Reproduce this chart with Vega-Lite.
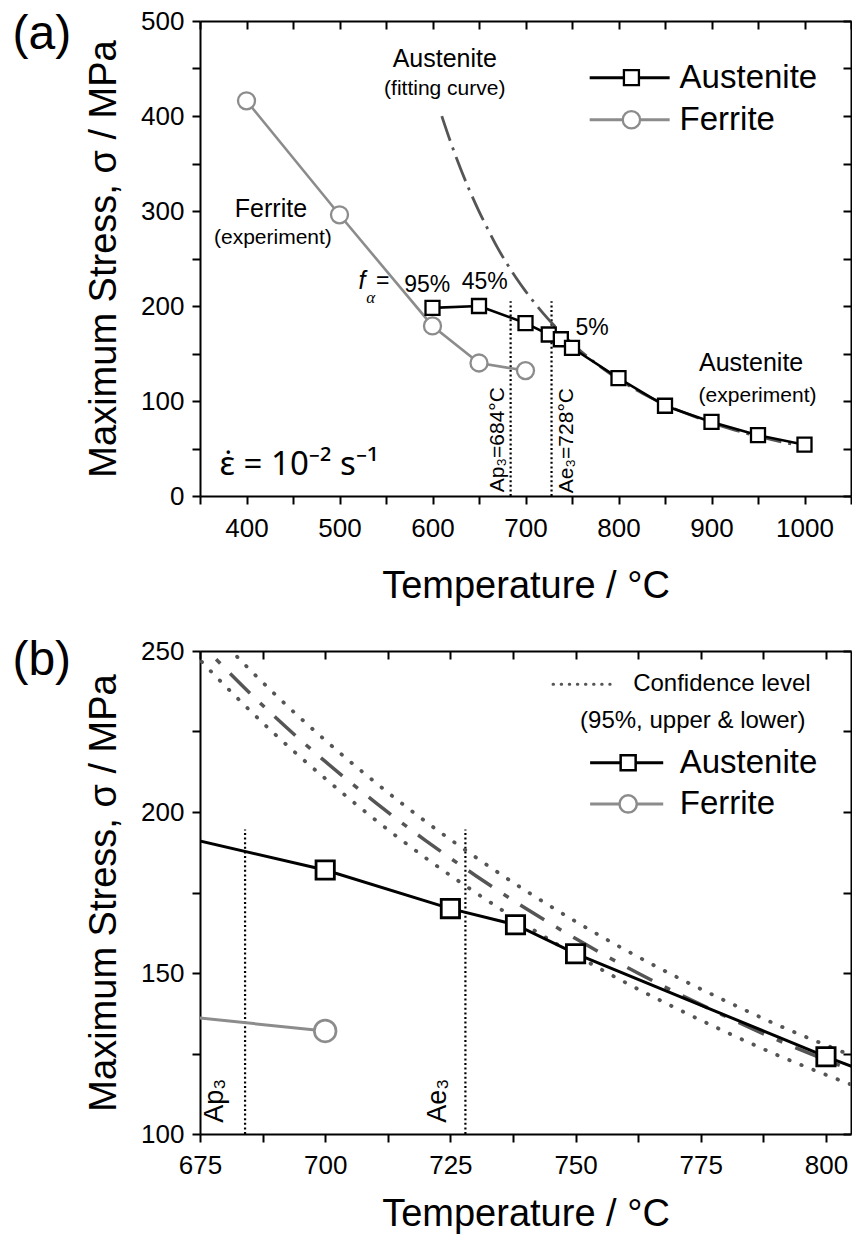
{
  "$schema": "https://vega.github.io/schema/vega-lite/v6.json",
  "background": "white",
  "padding": {"left": 12, "top": 8, "right": 0, "bottom": 4},
  "spacing": 31,
  "config": {
    "font": "Liberation Sans",
    "view": {"stroke": null},
    "axis": {"labelFont": "Liberation Sans", "titleFont": "Liberation Sans", "labelColor": "black", "titleColor": "black", "domainColor": "black", "tickColor": "black", "domainWidth": 2, "tickWidth": 2, "labelFontSize": 26, "titleFontSize": 38, "titleFontWeight": "normal", "grid": false, "labelFlush": false, "labelOverlap": false},
    "text": {"font": "Liberation Sans", "color": "black"}
  },
  "datasets": {
    "aus": [{"T":600,"s":198},{"T":650,"s":200},{"T":700,"s":182},{"T":725,"s":170},{"T":738,"s":165},{"T":750,"s":156},{"T":800,"s":124},{"T":850,"s":95},{"T":900,"s":78},{"T":950,"s":64},{"T":1000,"s":54}],
    "fer": [{"T":400,"s":416},{"T":500,"s":296},{"T":600,"s":179},{"T":650,"s":140},{"T":700,"s":132}],
    "fit": [{"T":610,"s":399.9},{"T":620,"s":371.1},{"T":630,"s":345.0},{"T":640,"s":321.3},{"T":650,"s":299.6},{"T":660,"s":279.9},{"T":670,"s":261.2},{"T":680,"s":244.6},{"T":690,"s":229.5},{"T":700,"s":215.7},{"T":710,"s":203.0},{"T":720,"s":191.2},{"T":730,"s":180.3},{"T":740,"s":170.1},{"T":750,"s":160.7},{"T":760,"s":152.0},{"T":770,"s":144.0},{"T":780,"s":136.5},{"T":790,"s":129.4},{"T":800,"s":123.0},{"T":810,"s":116.9},{"T":825,"s":108.5},{"T":850,"s":96.4},{"T":875,"s":86.0},{"T":900,"s":77.1},{"T":925,"s":69.4},{"T":950,"s":62.8},{"T":975,"s":57.0},{"T":1000,"s":52.0}],
    "band": [
      {"T":670,"s":268.9,"b":"upper"},{"T":680,"s":252.1,"b":"upper"},{"T":690,"s":236.5,"b":"upper"},{"T":700,"s":222.3,"b":"upper"},{"T":710,"s":209.2,"b":"upper"},{"T":720,"s":197.1,"b":"upper"},{"T":730,"s":186.0,"b":"upper"},{"T":740,"s":175.6,"b":"upper"},{"T":750,"s":166.0,"b":"upper"},{"T":760,"s":157.1,"b":"upper"},{"T":770,"s":148.9,"b":"upper"},{"T":780,"s":141.3,"b":"upper"},{"T":790,"s":134.1,"b":"upper"},{"T":800,"s":127.6,"b":"upper"},{"T":810,"s":121.4,"b":"upper"},
      {"T":670,"s":255.5,"b":"lower"},{"T":680,"s":239.2,"b":"lower"},{"T":690,"s":224.1,"b":"lower"},{"T":700,"s":210.4,"b":"lower"},{"T":710,"s":197.6,"b":"lower"},{"T":720,"s":185.8,"b":"lower"},{"T":730,"s":175.0,"b":"lower"},{"T":740,"s":164.9,"b":"lower"},{"T":750,"s":155.6,"b":"lower"},{"T":760,"s":147.0,"b":"lower"},{"T":770,"s":139.1,"b":"lower"},{"T":780,"s":131.7,"b":"lower"},{"T":790,"s":124.7,"b":"lower"},{"T":800,"s":118.4,"b":"lower"},{"T":810,"s":112.4,"b":"lower"}
    ]
  },
  "vconcat": [
    {
      "width": 651,
      "height": 475,
      "resolve": {"axis": {"x": "independent", "y": "independent"}},
      "layer": [
        {
          "data": {"values": [{"T":684,"lo":0,"hi":205},{"T":728,"lo":0,"hi":205}]},
          "mark": {"type": "rule", "color": "black", "strokeWidth": 2.2, "strokeDash": [2, 2.6]},
          "encoding": {
            "x": {"field": "T", "type": "quantitative", "scale": {"domain": [350,1050], "nice": false, "zero": false}, "axis": null},
            "y": {"field": "lo", "type": "quantitative", "scale": {"domain": [0,500], "nice": false, "zero": false}, "axis": null},
            "y2": {"field": "hi"}
          }
        },
        {
          "data": {"name": "fit"},
          "mark": {"type": "line", "color": "#555555", "strokeWidth": 2.8, "strokeDash": [26, 7, 3, 7], "interpolate": "monotone"},
          "encoding": {
            "x": {"field": "T", "type": "quantitative", "scale": {"domain": [350,1050], "nice": false, "zero": false},
                  "axis": {"orient": "bottom", "values": [350,400,450,500,550,600,650,700,750,800,850,900,950,1000,1050], "format": "d", "labelExpr": "datum.value % 100 === 0 ? datum.label : ''", "tickSize": 8, "labelPadding": 11, "title": "Temperature / °C", "titlePadding": 26}},
            "y": {"field": "s", "type": "quantitative", "scale": {"domain": [0,500], "nice": false, "zero": false},
                  "axis": {"orient": "left", "values": [0,50,100,150,200,250,300,350,400,450,500], "format": "d", "labelExpr": "datum.value % 100 === 0 ? datum.label : ''", "tickSize": 8, "labelPadding": 8, "title": "Maximum Stress, σ / MPa", "titlePadding": 17}}
          }
        },
        {
          "data": {"name": "fer"},
          "mark": {"type": "line", "color": "#8c8c8c", "strokeWidth": 2.6},
          "encoding": {
            "x": {"field": "T", "type": "quantitative", "scale": {"domain": [350,1050], "nice": false, "zero": false}, "axis": null},
            "y": {"field": "s", "type": "quantitative", "scale": {"domain": [0,500], "nice": false, "zero": false}, "axis": null}
          }
        },
        {
          "data": {"name": "fer"},
          "mark": {"type": "point", "shape": "circle", "filled": true, "fill": "white", "stroke": "#8c8c8c", "strokeWidth": 2.3, "size": 290, "opacity": 1},
          "encoding": {
            "x": {"field": "T", "type": "quantitative", "scale": {"domain": [350,1050], "nice": false, "zero": false}, "axis": null},
            "y": {"field": "s", "type": "quantitative", "scale": {"domain": [0,500], "nice": false, "zero": false}, "axis": null}
          }
        },
        {
          "data": {"name": "aus"},
          "mark": {"type": "line", "color": "black", "strokeWidth": 2.6},
          "encoding": {
            "x": {"field": "T", "type": "quantitative", "scale": {"domain": [350,1050], "nice": false, "zero": false},
                  "axis": {"orient": "top", "values": [350,400,450,500,550,600,650,700,750,800,850,900,950,1000,1050], "labels": false, "tickSize": -8, "title": null}},
            "y": {"field": "s", "type": "quantitative", "scale": {"domain": [0,500], "nice": false, "zero": false},
                  "axis": {"orient": "right", "values": [0,50,100,150,200,250,300,350,400,450,500], "labels": false, "tickSize": -8, "title": null}}
          }
        },
        {
          "data": {"name": "aus"},
          "mark": {"type": "point", "shape": "square", "filled": true, "fill": "white", "stroke": "black", "strokeWidth": 2.3, "size": 196, "opacity": 1},
          "encoding": {
            "x": {"field": "T", "type": "quantitative", "scale": {"domain": [350,1050], "nice": false, "zero": false}, "axis": null},
            "y": {"field": "s", "type": "quantitative", "scale": {"domain": [0,500], "nice": false, "zero": false}, "axis": null}
          }
        },
        {
          "data": {"values": [{"T":613.2,"s":460,"t":"Austenite"},{"T":426.3,"s":302,"t":"Ferrite"},{"T":942.6,"s":140.3,"t":"Austenite"}]},
          "mark": {"type": "text", "fontSize": 25, "align": "center", "baseline": "middle"},
          "encoding": {
            "x": {"field": "T", "type": "quantitative", "scale": {"domain": [350,1050], "nice": false, "zero": false}, "axis": null},
            "y": {"field": "s", "type": "quantitative", "scale": {"domain": [0,500], "nice": false, "zero": false}, "axis": null},
            "text": {"field": "t"}
          }
        },
        {
          "data": {"values": [{"T":613.2,"s":428.4,"t":"(fitting curve)"},{"T":428.4,"s":271.6,"t":"(experiment)"},{"T":949.5,"s":105.3,"t":"(experiment)"}]},
          "mark": {"type": "text", "fontSize": 21, "align": "center", "baseline": "middle"},
          "encoding": {
            "x": {"field": "T", "type": "quantitative", "scale": {"domain": [350,1050], "nice": false, "zero": false}, "axis": null},
            "y": {"field": "s", "type": "quantitative", "scale": {"domain": [0,500], "nice": false, "zero": false}, "axis": null},
            "text": {"field": "t"}
          }
        },
        {
          "data": {"values": [{"T":594.4,"s":222.6,"t":"95%"},{"T":656.2,"s":225.6,"t":"45%"},{"T":771.7,"s":176.5,"t":"5%"},{"T":546.6,"s":226.3,"t":"="}]},
          "mark": {"type": "text", "fontSize": 23, "align": "center", "baseline": "middle"},
          "encoding": {
            "x": {"field": "T", "type": "quantitative", "scale": {"domain": [350,1050], "nice": false, "zero": false}, "axis": null},
            "y": {"field": "s", "type": "quantitative", "scale": {"domain": [0,500], "nice": false, "zero": false}, "axis": null},
            "text": {"field": "t"}
          }
        },
        {
          "data": {"values": [{"T":524.1,"s":226.3,"t":"f"}]},
          "mark": {"type": "text", "fontSize": 25, "fontStyle": "italic", "align": "center", "baseline": "middle"},
          "encoding": {
            "x": {"field": "T", "type": "quantitative", "scale": {"domain": [350,1050], "nice": false, "zero": false}, "axis": null},
            "y": {"field": "s", "type": "quantitative", "scale": {"domain": [0,500], "nice": false, "zero": false}, "axis": null},
            "text": {"field": "t"}
          }
        },
        {
          "data": {"values": [{"T":533.7,"s":208.4,"t":"α"}]},
          "mark": {"type": "text", "fontSize": 17, "fontStyle": "italic", "font": "Liberation Serif", "align": "center", "baseline": "middle"},
          "encoding": {
            "x": {"field": "T", "type": "quantitative", "scale": {"domain": [350,1050], "nice": false, "zero": false}, "axis": null},
            "y": {"field": "s", "type": "quantitative", "scale": {"domain": [0,500], "nice": false, "zero": false}, "axis": null},
            "text": {"field": "t"}
          }
        },
        {
          "data": {"values": [{"T":677,"s":4,"t":"Ap₃=684°C"},{"T":751.5,"s":3,"t":"Ae₃=728°C"}]},
          "mark": {"type": "text", "fontSize": 21, "angle": 270, "align": "left", "baseline": "alphabetic"},
          "encoding": {
            "x": {"field": "T", "type": "quantitative", "scale": {"domain": [350,1050], "nice": false, "zero": false}, "axis": null},
            "y": {"field": "s", "type": "quantitative", "scale": {"domain": [0,500], "nice": false, "zero": false}, "axis": null},
            "text": {"field": "t"}
          }
        },
        {
          "data": {"values": [{"T":371,"s":22.1,"t":"ε̇ = 10⁻² s⁻¹"}]},
          "mark": {"type": "text", "fontSize": 33, "font": "Noto Sans", "align": "left", "baseline": "alphabetic"},
          "encoding": {
            "x": {"field": "T", "type": "quantitative", "scale": {"domain": [350,1050], "nice": false, "zero": false}, "axis": null},
            "y": {"field": "s", "type": "quantitative", "scale": {"domain": [0,500], "nice": false, "zero": false}, "axis": null},
            "text": {"field": "t"}
          }
        },
        {
          "data": {"values": [{"T":179.9,"s":485.3,"t":"(a)"}]},
          "mark": {"type": "text", "fontSize": 48, "align": "center", "baseline": "middle"},
          "encoding": {
            "x": {"field": "T", "type": "quantitative", "scale": {"domain": [350,1050], "nice": false, "zero": false}, "axis": null},
            "y": {"field": "s", "type": "quantitative", "scale": {"domain": [0,500], "nice": false, "zero": false}, "axis": null},
            "text": {"field": "t"}
          }
        },
        {
          "data": {"values": [{"T1":769,"T2":855,"s":440.3}]},
          "mark": {"type": "rule", "color": "black", "strokeWidth": 3},
          "encoding": {
            "x": {"field": "T1", "type": "quantitative", "scale": {"domain": [350,1050], "nice": false, "zero": false}, "axis": null},
            "x2": {"field": "T2"},
            "y": {"field": "s", "type": "quantitative", "scale": {"domain": [0,500], "nice": false, "zero": false}, "axis": null}
          }
        },
        {
          "data": {"values": [{"T1":769,"T2":855,"s":396}]},
          "mark": {"type": "rule", "color": "#8c8c8c", "strokeWidth": 3},
          "encoding": {
            "x": {"field": "T1", "type": "quantitative", "scale": {"domain": [350,1050], "nice": false, "zero": false}, "axis": null},
            "x2": {"field": "T2"},
            "y": {"field": "s", "type": "quantitative", "scale": {"domain": [0,500], "nice": false, "zero": false}, "axis": null}
          }
        },
        {
          "data": {"values": [{"T":813.9,"s":440.3}]},
          "mark": {"type": "point", "shape": "square", "filled": true, "fill": "white", "stroke": "black", "strokeWidth": 2.3, "size": 225, "opacity": 1},
          "encoding": {
            "x": {"field": "T", "type": "quantitative", "scale": {"domain": [350,1050], "nice": false, "zero": false}, "axis": null},
            "y": {"field": "s", "type": "quantitative", "scale": {"domain": [0,500], "nice": false, "zero": false}, "axis": null}
          }
        },
        {
          "data": {"values": [{"T":813.9,"s":396}]},
          "mark": {"type": "point", "shape": "circle", "filled": true, "fill": "white", "stroke": "#8c8c8c", "strokeWidth": 2.3, "size": 300, "opacity": 1},
          "encoding": {
            "x": {"field": "T", "type": "quantitative", "scale": {"domain": [350,1050], "nice": false, "zero": false}, "axis": null},
            "y": {"field": "s", "type": "quantitative", "scale": {"domain": [0,500], "nice": false, "zero": false}, "axis": null}
          }
        },
        {
          "data": {"values": [{"T":865.7,"s":440.3,"t":"Austenite"},{"T":865.7,"s":396,"t":"Ferrite"}]},
          "mark": {"type": "text", "fontSize": 33, "align": "left", "baseline": "middle"},
          "encoding": {
            "x": {"field": "T", "type": "quantitative", "scale": {"domain": [350,1050], "nice": false, "zero": false}, "axis": null},
            "y": {"field": "s", "type": "quantitative", "scale": {"domain": [0,500], "nice": false, "zero": false}, "axis": null},
            "text": {"field": "t"}
          }
        }
      ]
    },
    {
      "width": 651,
      "height": 483,
      "resolve": {"axis": {"x": "independent", "y": "independent"}},
      "layer": [
        {
          "data": {"values": [{"T":684,"lo":100,"hi":194.6},{"T":728,"lo":100,"hi":194.6}]},
          "mark": {"type": "rule", "color": "black", "strokeWidth": 2.2, "strokeDash": [2, 2.6]},
          "encoding": {
            "x": {"field": "T", "type": "quantitative", "scale": {"domain": [675,805], "nice": false, "zero": false}, "axis": null},
            "y": {"field": "lo", "type": "quantitative", "scale": {"domain": [100,250], "nice": false, "zero": false}, "axis": null},
            "y2": {"field": "hi"}
          }
        },
        {
          "data": {"name": "band"},
          "mark": {"type": "line", "color": "#555555", "strokeWidth": 3.8, "strokeDash": [0.5, 12.5], "strokeCap": "round", "clip": true, "interpolate": "monotone"},
          "encoding": {
            "x": {"field": "T", "type": "quantitative", "scale": {"domain": [675,805], "nice": false, "zero": false}, "axis": null},
            "y": {"field": "s", "type": "quantitative", "scale": {"domain": [100,250], "nice": false, "zero": false}, "axis": null},
            "detail": {"field": "b"}
          }
        },
        {
          "data": {"name": "fit"},
          "mark": {"type": "line", "color": "#555555", "strokeWidth": 3.5, "strokeDash": [28, 14, 6, 14], "interpolate": "monotone", "clip": true},
          "encoding": {
            "x": {"field": "T", "type": "quantitative", "scale": {"domain": [675,805], "nice": false, "zero": false},
                  "axis": {"orient": "bottom", "values": [675,687.5,700,712.5,725,737.5,750,762.5,775,787.5,800], "format": "d", "labelExpr": "(datum.value - 675) % 25 === 0 ? datum.label : ''", "tickSize": 8, "labelPadding": 10, "title": "Temperature / °C", "titlePadding": 17}},
            "y": {"field": "s", "type": "quantitative", "scale": {"domain": [100,250], "nice": false, "zero": false},
                  "axis": {"orient": "left", "values": [100,125,150,175,200,225,250], "format": "d", "labelExpr": "datum.value % 50 === 0 ? datum.label : ''", "tickSize": 8, "labelPadding": 8, "title": "Maximum Stress, σ / MPa", "titlePadding": 17}}
          }
        },
        {
          "data": {"name": "fer"},
          "mark": {"type": "line", "color": "#8c8c8c", "strokeWidth": 3, "clip": true},
          "encoding": {
            "x": {"field": "T", "type": "quantitative", "scale": {"domain": [675,805], "nice": false, "zero": false}, "axis": null},
            "y": {"field": "s", "type": "quantitative", "scale": {"domain": [100,250], "nice": false, "zero": false}, "axis": null}
          }
        },
        {
          "data": {"name": "fer"},
          "mark": {"type": "point", "shape": "circle", "filled": true, "fill": "white", "stroke": "#8c8c8c", "strokeWidth": 2.7, "size": 470, "opacity": 1, "clip": true},
          "encoding": {
            "x": {"field": "T", "type": "quantitative", "scale": {"domain": [675,805], "nice": false, "zero": false}, "axis": null},
            "y": {"field": "s", "type": "quantitative", "scale": {"domain": [100,250], "nice": false, "zero": false}, "axis": null}
          }
        },
        {
          "data": {"name": "aus"},
          "mark": {"type": "line", "color": "black", "strokeWidth": 3, "clip": true},
          "encoding": {
            "x": {"field": "T", "type": "quantitative", "scale": {"domain": [675,805], "nice": false, "zero": false},
                  "axis": {"orient": "top", "values": [675,687.5,700,712.5,725,737.5,750,762.5,775,787.5,800], "labels": false, "tickSize": -8, "title": null}},
            "y": {"field": "s", "type": "quantitative", "scale": {"domain": [100,250], "nice": false, "zero": false},
                  "axis": {"orient": "right", "values": [100,125,150,175,200,225,250], "labels": false, "tickSize": -8, "title": null}}
          }
        },
        {
          "data": {"name": "aus"},
          "mark": {"type": "point", "shape": "square", "filled": true, "fill": "white", "stroke": "black", "strokeWidth": 2.8, "size": 335, "opacity": 1, "clip": true},
          "encoding": {
            "x": {"field": "T", "type": "quantitative", "scale": {"domain": [675,805], "nice": false, "zero": false}, "axis": null},
            "y": {"field": "s", "type": "quantitative", "scale": {"domain": [100,250], "nice": false, "zero": false}, "axis": null}
          }
        },
        {
          "data": {"values": [{"T":679.6,"s":103.5,"t":"Ap₃"},{"T":724.2,"s":103.5,"t":"Ae₃"}]},
          "mark": {"type": "text", "fontSize": 27, "angle": 270, "align": "left", "baseline": "alphabetic"},
          "encoding": {
            "x": {"field": "T", "type": "quantitative", "scale": {"domain": [675,805], "nice": false, "zero": false}, "axis": null},
            "y": {"field": "s", "type": "quantitative", "scale": {"domain": [100,250], "nice": false, "zero": false}, "axis": null},
            "text": {"field": "t"}
          }
        },
        {
          "data": {"values": [{"T":643.4,"s":246.9,"t":"(b)"}]},
          "mark": {"type": "text", "fontSize": 48, "align": "center", "baseline": "middle"},
          "encoding": {
            "x": {"field": "T", "type": "quantitative", "scale": {"domain": [675,805], "nice": false, "zero": false}, "axis": null},
            "y": {"field": "s", "type": "quantitative", "scale": {"domain": [100,250], "nice": false, "zero": false}, "axis": null},
            "text": {"field": "t"}
          }
        },
        {
          "data": {"values": [{"T1":745.5,"T2":756.9,"s":239.7}]},
          "mark": {"type": "rule", "color": "#555555", "strokeWidth": 3, "strokeDash": [0.5, 7.6], "strokeCap": "round"},
          "encoding": {
            "x": {"field": "T1", "type": "quantitative", "scale": {"domain": [675,805], "nice": false, "zero": false}, "axis": null},
            "x2": {"field": "T2"},
            "y": {"field": "s", "type": "quantitative", "scale": {"domain": [100,250], "nice": false, "zero": false}, "axis": null}
          }
        },
        {
          "data": {"values": [{"T":761.5,"s":239.7,"t":"Confidence level"},{"T":750.9,"s":228.3,"t":"(95%, upper & lower)"}]},
          "mark": {"type": "text", "fontSize": 24, "align": "left", "baseline": "middle"},
          "encoding": {
            "x": {"field": "T", "type": "quantitative", "scale": {"domain": [675,805], "nice": false, "zero": false}, "axis": null},
            "y": {"field": "s", "type": "quantitative", "scale": {"domain": [100,250], "nice": false, "zero": false}, "axis": null},
            "text": {"field": "t"}
          }
        },
        {
          "data": {"values": [{"T1":752.9,"T2":767.5,"s":215.3}]},
          "mark": {"type": "rule", "color": "black", "strokeWidth": 3},
          "encoding": {
            "x": {"field": "T1", "type": "quantitative", "scale": {"domain": [675,805], "nice": false, "zero": false}, "axis": null},
            "x2": {"field": "T2"},
            "y": {"field": "s", "type": "quantitative", "scale": {"domain": [100,250], "nice": false, "zero": false}, "axis": null}
          }
        },
        {
          "data": {"values": [{"T1":752.9,"T2":767.5,"s":202.5}]},
          "mark": {"type": "rule", "color": "#8c8c8c", "strokeWidth": 3},
          "encoding": {
            "x": {"field": "T1", "type": "quantitative", "scale": {"domain": [675,805], "nice": false, "zero": false}, "axis": null},
            "x2": {"field": "T2"},
            "y": {"field": "s", "type": "quantitative", "scale": {"domain": [100,250], "nice": false, "zero": false}, "axis": null}
          }
        },
        {
          "data": {"values": [{"T":760.5,"s":215.3}]},
          "mark": {"type": "point", "shape": "square", "filled": true, "fill": "white", "stroke": "black", "strokeWidth": 2.5, "size": 225, "opacity": 1},
          "encoding": {
            "x": {"field": "T", "type": "quantitative", "scale": {"domain": [675,805], "nice": false, "zero": false}, "axis": null},
            "y": {"field": "s", "type": "quantitative", "scale": {"domain": [100,250], "nice": false, "zero": false}, "axis": null}
          }
        },
        {
          "data": {"values": [{"T":760.5,"s":202.5}]},
          "mark": {"type": "point", "shape": "circle", "filled": true, "fill": "white", "stroke": "#8c8c8c", "strokeWidth": 2.5, "size": 300, "opacity": 1},
          "encoding": {
            "x": {"field": "T", "type": "quantitative", "scale": {"domain": [675,805], "nice": false, "zero": false}, "axis": null},
            "y": {"field": "s", "type": "quantitative", "scale": {"domain": [100,250], "nice": false, "zero": false}, "axis": null}
          }
        },
        {
          "data": {"values": [{"T":770.8,"s":215.3,"t":"Austenite"},{"T":770.8,"s":202.5,"t":"Ferrite"}]},
          "mark": {"type": "text", "fontSize": 33, "align": "left", "baseline": "middle"},
          "encoding": {
            "x": {"field": "T", "type": "quantitative", "scale": {"domain": [675,805], "nice": false, "zero": false}, "axis": null},
            "y": {"field": "s", "type": "quantitative", "scale": {"domain": [100,250], "nice": false, "zero": false}, "axis": null},
            "text": {"field": "t"}
          }
        }
      ]
    }
  ]
}
